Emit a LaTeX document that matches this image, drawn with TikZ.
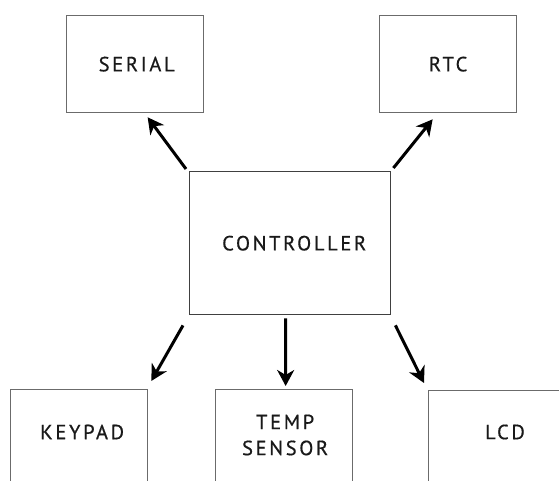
\documentclass[tikz,border=0pt]{standalone}
\usepackage{fontspec}
\setmainfont{PT Sans}[LetterSpace=13,FakeBold=0.6]
\usetikzlibrary{arrows.meta}
\definecolor{boxline}{gray}{0.42}
\definecolor{ctrlline}{gray}{0.25}
\definecolor{txt}{gray}{0.1}
\tikzset{
  blockbox/.style={draw=boxline, line width=1.3bp, minimum width=137bp, minimum height=97bp, inner sep=0pt, text=txt, font=\fontsize{20.5bp}{26bp}\selectfont},
  ctrlbox/.style={draw=ctrlline, line width=1.4bp, minimum width=201bp, minimum height=143bp, inner sep=0pt, text=txt, font=\fontsize{20.5bp}{26bp}\selectfont},
  lbl/.style={text=txt, align=center, inner sep=0pt, font=\fontsize{20.5bp}{26bp}\selectfont},
  flow/.style={line width=3bp, -{Stealth[length=16bp,width=17bp,inset=5bp]}}
}
\begin{document}
\begin{tikzpicture}[x=1bp,y=-1bp]
\useasboundingbox (0,0) rectangle (559,481);
\clip (0,0) rectangle (559,481);
\node[blockbox, anchor=north west] (serial) at (66,15) {\hspace*{3bp}SERIAL};
\node[blockbox, anchor=north west] (rtc) at (379,15) {RTC};
\node[ctrlbox, anchor=north west] (ctrl) at (189,171) {\hspace*{8bp}CONTROLLER};
\node[blockbox, minimum height=130bp, anchor=north west] (keypad) at (10,389) {};
\node[blockbox, minimum height=130bp, anchor=north west] (temp) at (215,389) {};
\node[blockbox, minimum height=130bp, anchor=north west] (lcd) at (428,390) {};
\node[lbl] (keypadtxt) at ([shift={(3,43)}]keypad.north) {KEYPAD};
\node[lbl] (temptxt) at ([shift={(1,46)}]temp.north) {TEMP\\SENSOR};
\node[lbl] (lcdtxt) at (505,432) {LCD};
\draw[flow] ([shift={(-3,-2)}]ctrl.north west) -- ([shift={(12.5,4)}]serial.south);
\draw[flow] ([shift={(2,-3)}]ctrl.north east) -- ([shift={(-15.5,6)}]rtc.south);
\draw[flow] ([shift={(-6,10)}]ctrl.south west) -- ([shift={(3,-8)}]keypad.north east);
\draw[flow] ([shift={(-4.5,3)}]ctrl.south) -- ([shift={(1.5,-3)}]temp.north);
\draw[flow] ([shift={(4,10)}]ctrl.south east) -- ([shift={(-4,-7)}]lcd.north west);
\end{tikzpicture}
\end{document}
